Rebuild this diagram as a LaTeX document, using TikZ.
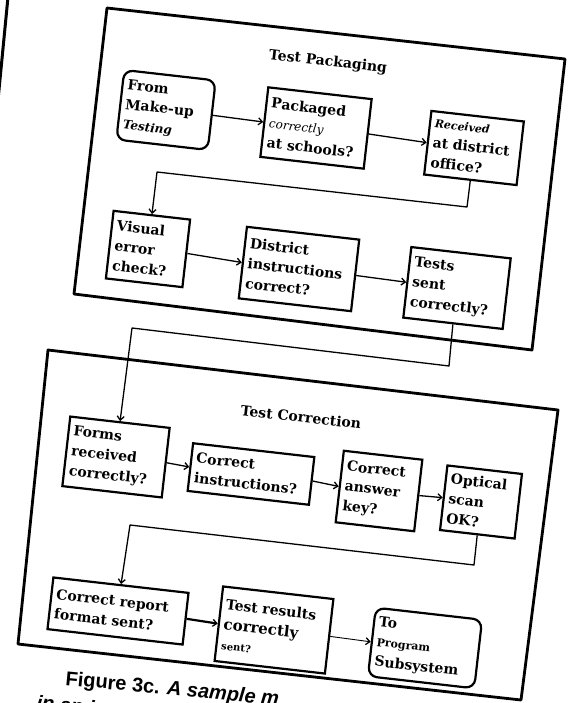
\documentclass[tikz,border=0pt]{standalone}
\usepackage{fontspec}
\setmainfont{DejaVu Serif}
\setsansfont{Liberation Sans}
\usetikzlibrary{arrows.meta}
\begin{document}
\begin{tikzpicture}[x=1pt,y=-1pt,
  box/.style={draw, line width=2.2pt, rotate=-6.5, inner xsep=5pt, inner ysep=2pt,
    align=left, font=\fontsize{14}{20}\selectfont\bfseries},
  rbox/.style={box, rounded corners=9pt},
  frameline/.style={line width=2.8pt, line join=round},
  conn/.style={line width=1.3pt, line join=round,
    -{Straight Barb[length=4pt,width=7pt,line width=1.3pt]}},
  titletxt/.style={rotate=-6.5, font=\fontsize{14}{16}\selectfont\bfseries},
  captxt/.style={rotate=-5.5, anchor=base west, inner sep=0pt,
    font=\fontsize{20}{24}\selectfont\sffamily\bfseries}
]
\useasboundingbox (0,0) rectangle (572,703);
\clip (0,0) rectangle (572,703);

% remnant of a neighbouring frame
\draw[line width=3pt] (8,-3) -- (-2,100);

% frames
\coordinate (tp1) at (107,8);
\coordinate (tp2) at (565,59);
\coordinate (tp3) at (532,350);
\coordinate (tp4) at (74,294);
\draw[frameline] (tp1) -- (tp2) -- (tp3) -- (tp4) -- cycle;

\coordinate (tc1) at (48,350);
\coordinate (tc2) at (558,410);
\coordinate (tc3) at (521,700);
\coordinate (tc4) at (18,644);
\draw[frameline] (tc1) -- (tc2) -- (tc3) -- (tc4) -- cycle;

% titles
\node[titletxt] (tptitle) at (328,62) {Test Packaging};
\node[titletxt] (tctitle) at (301,417) {Test Correction};

% Test Packaging nodes
\node[rbox, text width=82pt, minimum height=70pt] (from) at (166,110)
  {From\\Make-up\\{\fontsize{12}{20}\selectfont\itshape Testing}};
\node[box, text width=94pt, minimum height=70pt] (pack) at (316,128)
  {Packaged\\{\fontsize{12}{20}\selectfont\mdseries\itshape correctly}\\at schools?};
\node[box, text width=83pt, minimum height=64pt] (rec) at (474,148)
  {{\fontsize{11}{20}\selectfont\itshape Received}\\at district\\office?};
\node[box, text width=67pt, minimum height=68pt] (vis) at (148,249)
  {Visual\\error\\check?};
\node[box, text width=103pt, minimum height=72pt] (dist) at (299,269)
  {District\\instructions\\correct?};
\node[box, text width=90pt, minimum height=71pt] (tests) at (457,288)
  {Tests\\sent\\correctly?};

% Test Correction nodes
\node[box, text width=90pt, minimum height=70pt] (forms) at (116,457)
  {Forms\\received\\correctly?};
\node[box, text width=112pt, minimum height=48pt] (cinstr) at (251,474)
  {Correct\\instructions?};
\node[box, text width=69pt, minimum height=72pt] (key) at (379,491)
  {Correct\\answer\\key?};
\node[box, text width=65pt, minimum height=65pt] (scan) at (481,502)
  {Optical\\scan\\OK?};
\node[box, text width=126pt, minimum height=52pt] (report) at (118,611)
  {Correct report\\format sent?};
\node[box, text width=101pt, minimum height=75pt] (results) at (274,630)
  {Test results\\{\fontsize{15}{20}\selectfont correctly}\\{\fontsize{10}{20}\selectfont sent?}};
\node[rbox, text width=97pt, minimum height=69pt] (toprog) at (425,648)
  {To\\{\fontsize{11}{20}\selectfont Program}\\Subsystem};

% elbow waypoints
\coordinate (c1) at (467,207);
\coordinate (c2) at (157,172);
\coordinate (c3) at (449,366);
\coordinate (c4) at (132,328);
\coordinate (c5) at (474,565);
\coordinate (c6) at (130,525);

% connectors
\draw[conn] (from.east) -- (pack.west);
\draw[conn] (pack.east) -- (rec.west);
\draw[conn] (rec.south) -- (c1) -- (c2) -- (vis.north);
\draw[conn] (vis.east) -- (dist.west);
\draw[conn] (dist.east) -- (tests.west);
\draw[conn] (tests.south) -- (c3) -- (c4) -- (forms.north);
\draw[conn] (forms.east) -- (cinstr.west);
\draw[conn] (cinstr.east) -- (key.west);
\draw[conn] (key.east) -- (scan.west);
\draw[conn] (scan.south) -- (c5) -- (c6) -- (report.north);
\draw[conn, line width=2.2pt] (report.east) -- (results.west);
\draw[conn, line width=0.9pt] (results.east) -- (toprog.west);

% caption (cut by the page edge)
\node[captxt] (cap1) at (65,685) {Figure 3c. \textit{A sample m}};
\node[captxt] (cap2) at (36,709) {\textit{in an i}};
\end{tikzpicture}
\end{document}
